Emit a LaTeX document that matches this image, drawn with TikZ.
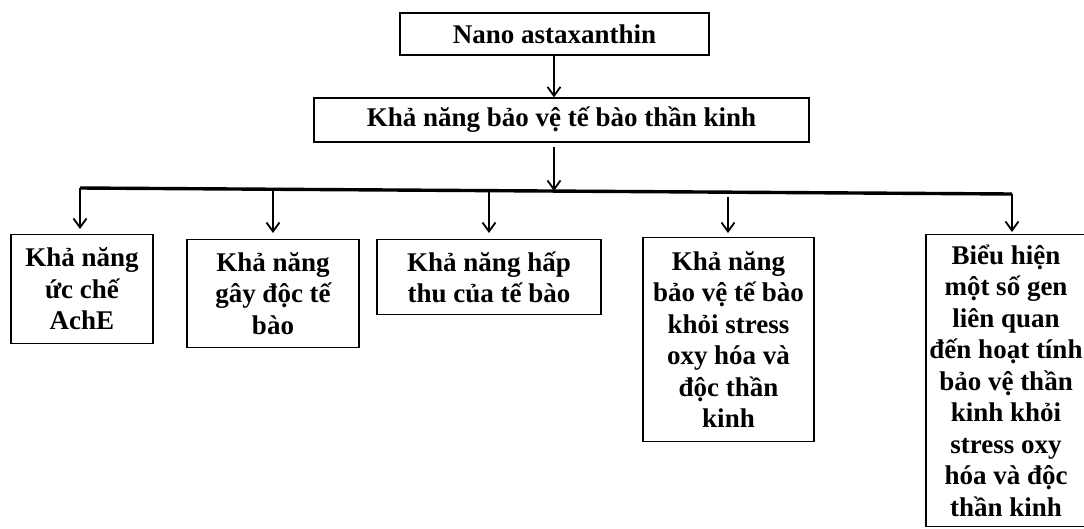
\documentclass[tikz,border=0pt]{standalone}
\usepackage{fontspec}
\setmainfont{Liberation Serif}
\usetikzlibrary{arrows.meta}

\tikzset{
  box/.style={draw, line width=1.2pt, align=center, inner xsep=3pt, inner ysep=10pt,
    font=\bfseries\fontsize{27}{31.5}\selectfont},
  link/.style={line width=1.8pt, -{Straight Barb[length=9pt, width=13pt, line width=1.8pt]}},
}

\begin{document}
\begin{tikzpicture}[x=1pt, y=-1pt]
    \useasboundingbox (0,0) rectangle (1084,528);

    \node[box, inner ysep=2pt, minimum width=309pt, minimum height=42pt] (nano) at (554.5,34) {Nano astaxanthin};
    \node[box, inner ysep=2pt, minimum width=495pt, minimum height=44pt] (prot) at (561.5,120) {Khả năng bảo vệ tế bào thần kinh};

    \node[box, anchor=north, minimum width=142pt, minimum height=109pt] (ache) at (82,234) {Khả năng\\ức chế\\AchE};
    \node[box, anchor=north, minimum width=172pt, minimum height=108pt] (toxic) at (273,239) {Khả năng\\gây độc tế\\bào};
    \node[box, anchor=north, minimum width=224pt, minimum height=75pt] (uptake) at (489,239) {Khả năng hấp\\thu của tế bào};
    \node[box, anchor=north, minimum width=171pt, minimum height=204pt] (stress) at (728.5,237) {Khả năng\\bảo vệ tế bào\\khỏi stress\\oxy hóa và\\độc thần\\kinh};
    \node[box, anchor=north, inner xsep=1pt, minimum width=160pt] (gene) at (1006,234) {Biểu hiện\\một số gen\\liên quan\\đến hoạt tính\\bảo vệ thần\\kinh khỏi\\stress oxy\\hóa và độc\\thần kinh};

    \coordinate (busL) at (80,188);
    \coordinate (busR) at (1012,194);
    \coordinate (hub) at (554,191);

    \draw[link] (nano.south -| hub) -- (prot.north -| hub);
    \draw[link, shorten <=4pt] (prot.south -| hub) -- (hub);
    \draw[line width=3.4pt] (busL) -- (busR);

    \draw[link, shorten >=5pt] (busL) -- (busL |- ache.north);
    \draw[link, shorten >=6pt] (273,189) -- (273,239);
    \draw[link, shorten >=6pt] (489,190.5) -- (489,239);
    \draw[link, shorten >=4pt] (728,197) -- (728,237);
    \draw[link, shorten >=2pt] (busR) -- (busR |- gene.north);
\end{tikzpicture}
\end{document}
